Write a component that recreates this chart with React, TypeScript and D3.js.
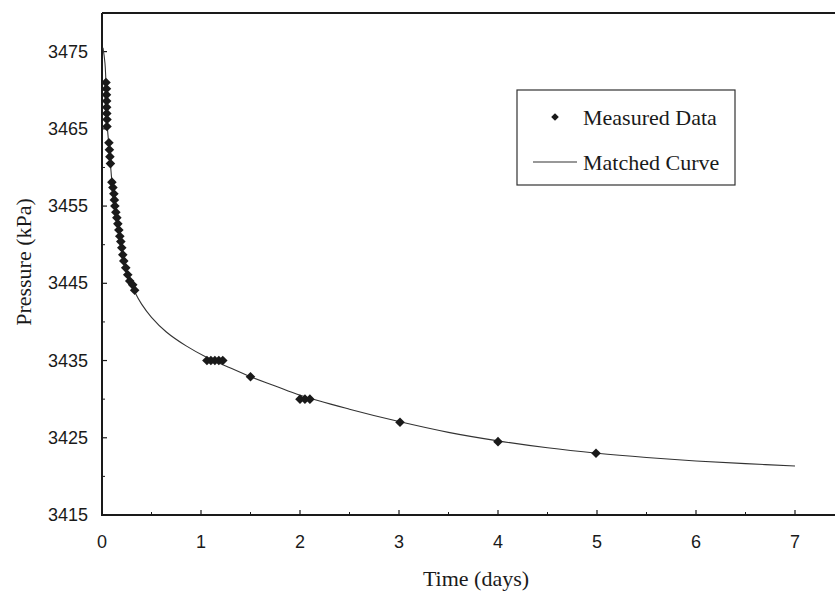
import React from 'react';
import * as d3 from 'd3';

const measuredTime = [
  0.04, 0.045, 0.045, 0.047, 0.047, 0.048, 0.05, 0.05,
  0.07, 0.075, 0.08, 0.085,
  0.1, 0.11, 0.12, 0.125, 0.13, 0.14, 0.15, 0.16, 0.17, 0.18, 0.19, 0.2, 0.21, 0.22, 0.24, 0.26, 0.28, 0.31, 0.33,
  1.06, 1.1, 1.14, 1.18, 1.22,
  1.5,
  2.0, 2.05, 2.1,
  3.01, 4.0, 4.99,
];
const measuredPressure = [
  3471, 3470.2, 3469.4, 3468.6, 3467.8, 3467, 3466.2, 3465.3,
  3463.2, 3462.3, 3461.4, 3460.5,
  3458.1, 3457.4, 3456.6, 3455.8, 3455, 3454.2, 3453.5, 3452.7, 3451.9, 3451.1, 3450.4, 3449.6, 3448.7, 3447.9, 3447, 3446.1, 3445.3, 3444.8, 3444.1,
  3435, 3435, 3435, 3435, 3435,
  3432.9,
  3430, 3430, 3430,
  3427, 3424.5, 3423,
];

const curveTime = [
  0.01, 0.03, 0.045, 0.05, 0.065, 0.085, 0.1, 0.13, 0.16, 0.2, 0.24, 0.28, 0.33, 0.4, 0.5, 0.65, 0.85,
  1.06, 1.25, 1.5, 1.75, 2.0, 2.5, 3.0, 3.5, 4.0, 4.5, 5.0, 5.5, 6.0, 6.5, 7.0,
];
const curvePressure = [
  3475.5, 3473.5, 3469, 3466, 3463.5, 3460.5, 3458.2, 3455, 3452.7, 3449.6, 3447.1, 3445.4, 3443.9, 3442.3, 3440.6, 3438.7, 3436.9,
  3435.4, 3434.3, 3432.9, 3431.7, 3430.5, 3428.7, 3427.1, 3425.7, 3424.6, 3423.7, 3423.0, 3422.45, 3422.0, 3421.65, 3421.35,
];

const xTicks = [0, 1, 2, 3, 4, 5, 6, 7];
const xMinorTicks = [0.5, 1.5, 2.5, 3.5, 4.5, 5.5, 6.5];
const yTicks = [3415, 3425, 3435, 3445, 3455, 3465, 3475];
const yMinorTicks = [3420, 3430, 3440, 3450, 3460, 3470];

const legendLabels = ['Measured Data', 'Matched Curve'];

const W = 835;
const H = 592;
const serif = '"Liberation Serif", "Times New Roman", serif';
const sans = '"Liberation Sans", Arial, sans-serif';
const ink = '#1a1a1a';

export default function App() {
  const x = d3.scaleLinear().domain([0, 7.5]).range([102, 102 + 7.5 * 99]);
  const y = d3.scaleLinear().domain([3415, 3480]).range([515, 13]);

  const pts = measuredTime.map((t, i) => [t, measuredPressure[i]] as [number, number]);
  const curvePts = curveTime.map((t, i) => [t, curvePressure[i]] as [number, number]);

  const line = d3
    .line<[number, number]>()
    .x((d) => x(d[0]))
    .y((d) => y(d[1]))
    .curve(d3.curveCatmullRom.alpha(0.5));

  const diamond = d3.symbol().type(d3.symbolSquare).size(46)();

  const x0 = x(0);
  const yBottom = y(3415);
  const yTop = y(3480);

  return (
    <svg
      width={W}
      height={H}
      style={{ position: 'absolute', left: 0, top: 0, background: '#fff' }}
    >
      <rect width={W} height={H} fill="#fff" />

      {/* frame */}
      <line x1={x0} x2={W} y1={yTop} y2={yTop} stroke={ink} strokeWidth={2} />
      <line x1={x0} x2={x0} y1={yTop} y2={yBottom + 1} stroke={ink} strokeWidth={2} />
      <line x1={x0 - 1} x2={W} y1={yBottom} y2={yBottom} stroke={ink} strokeWidth={2} />

      {/* y ticks */}
      {yTicks.map((v) => (
        <g key={'y' + v}>
          <line x1={x0} x2={x0 + 5} y1={y(v)} y2={y(v)} stroke={ink} strokeWidth={1.2} />
          <text
            x={88}
            y={y(v)}
            textAnchor="end"
            dominantBaseline="central"
            fontFamily={sans}
            fontSize={18}
            fill={ink}
          >
            {v}
          </text>
        </g>
      ))}
      {yMinorTicks.map((v) => (
        <line key={'ym' + v} x1={x0} x2={x0 + 3} y1={y(v)} y2={y(v)} stroke={ink} strokeWidth={1} />
      ))}

      {/* x ticks */}
      {xTicks.map((v) => (
        <g key={'x' + v}>
          <line x1={x(v)} x2={x(v)} y1={yBottom} y2={yBottom - 5} stroke={ink} strokeWidth={1.2} />
          <text
            x={x(v)}
            y={yBottom + 27}
            textAnchor="middle"
            dominantBaseline="central"
            fontFamily={sans}
            fontSize={18}
            fill={ink}
          >
            {v}
          </text>
        </g>
      ))}
      {xMinorTicks.map((v) => (
        <line key={'xm' + v} x1={x(v)} x2={x(v)} y1={yBottom} y2={yBottom - 3} stroke={ink} strokeWidth={1} />
      ))}

      {/* axis titles */}
      <text
        x={476}
        y={578}
        textAnchor="middle"
        dominantBaseline="central"
        fontFamily={serif}
        fontSize={22}
        fill={ink}
      >
        Time (days)
      </text>
      <text
        transform={`translate(23, 262) rotate(-90)`}
        textAnchor="middle"
        dominantBaseline="central"
        fontFamily={serif}
        fontSize={22}
        fill={ink}
      >
        Pressure (kPa)
      </text>

      {/* matched curve */}
      <path d={line(curvePts) || ''} fill="none" stroke="#333" strokeWidth={1.1} />

      {/* measured data */}
      {pts.map((d, i) => (
        <path
          key={'p' + i}
          d={diamond || ''}
          transform={`translate(${x(d[0])},${y(d[1])}) rotate(45)`}
          fill={ink}
        />
      ))}

      {/* legend */}
      <rect x={517} y={90} width={218} height={95} fill="#fff" stroke="#333" strokeWidth={1.2} />
      <path d={diamond || ''} transform="translate(555,117) rotate(45) scale(0.8)" fill={ink} />
      <text x={583} y={117} dominantBaseline="central" fontFamily={serif} fontSize={22} fill={ink}>
        {legendLabels[0]}
      </text>
      <line x1={533} x2={577} y1={162} y2={162} stroke="#333" strokeWidth={1.1} />
      <text x={583} y={162} dominantBaseline="central" fontFamily={serif} fontSize={22} fill={ink}>
        {legendLabels[1]}
      </text>
    </svg>
  );
}
